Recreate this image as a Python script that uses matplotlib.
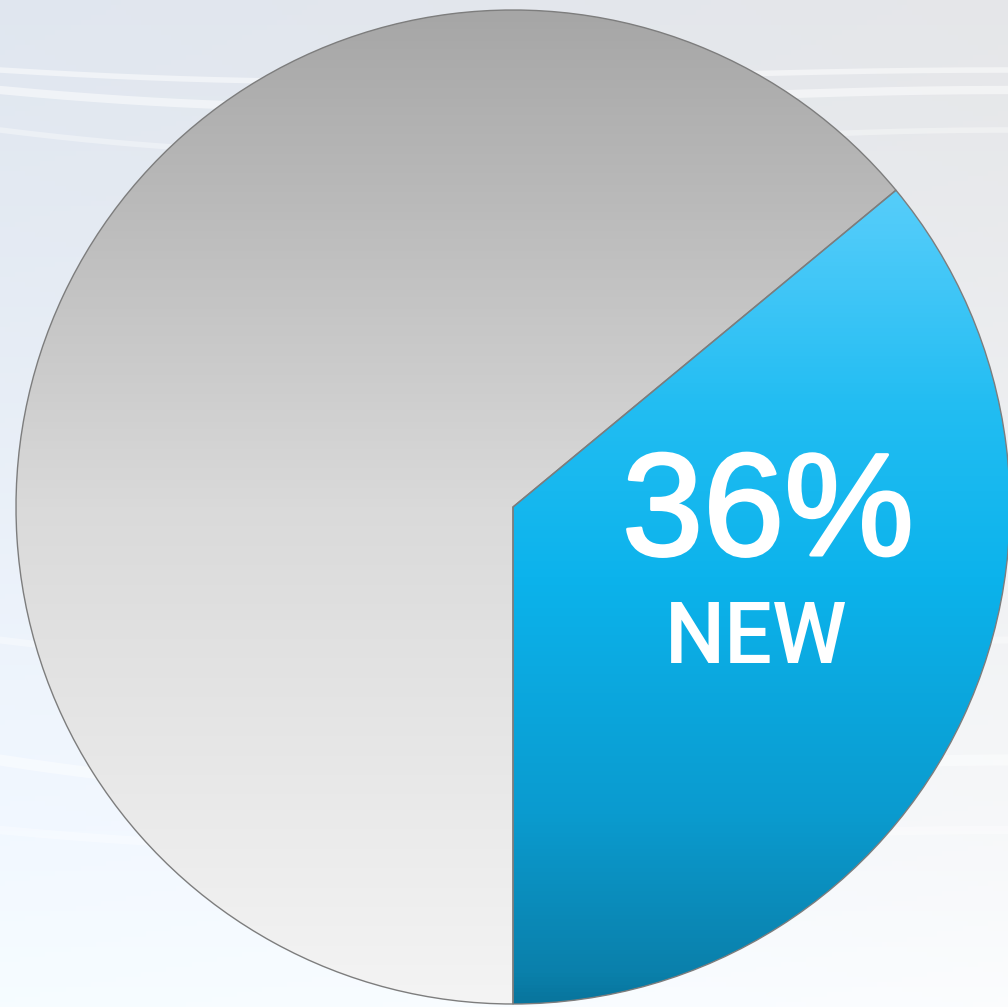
import numpy as np
import matplotlib.pyplot as plt
import matplotlib.patheffects as pe
from matplotlib.colors import LinearSegmentedColormap

# slice data
labels = ["NEW", "OTHER"]
shares = [36, 64]
headline = "36%"

W, H = 1008, 1007
cx, cy, r = 513, H - 507, 497

fig = plt.figure(figsize=(W / 100, H / 100), dpi=100)
ax = fig.add_axes([0, 0, 1, 1])
ax.set_xlim(0, W)
ax.set_ylim(0, H)
ax.set_aspect("equal")
ax.axis("off")

# soft silvery backdrop, grey on top fading to white
yy, xx = np.mgrid[0:1:200j, 0:1:200j]
bg = np.zeros((200, 200, 3))
top = np.array([0.90, 0.905, 0.915])
bot = np.array([0.985, 0.99, 0.995])
t = yy ** 1.2
for k in range(3):
    bg[..., k] = top[k] * (1 - t) + bot[k] * t
bg[..., 2] += 0.025 * (1 - xx)
bg[..., 0] -= 0.02 * (1 - xx)
bg = np.clip(bg, 0, 1)
ax.imshow(bg, extent=[0, W, 0, H], origin="upper", zorder=0, aspect="auto")

# faint white streaks (image rows measured from the top)
xs = np.linspace(0, W, 300)
for y0, amp, lw, a in [(760, 50, 8, 0.45), (640, 40, 5, 0.35), (830, 30, 6, 0.35),
                       (90, 30, 6, 0.5), (130, 40, 4, 0.35), (70, 20, 4, 0.5)]:
    ys = y0 + amp * np.sin(np.pi * xs / W) * (1 - xs / W)
    ax.plot(xs, H - ys, color="white", lw=lw, alpha=a, solid_capstyle="round", zorder=1)

wedges, _ = ax.pie(shares, startangle=-90, counterclock=True, center=(cx, cy),
                   radius=r, frame=True,
                   wedgeprops=dict(edgecolor="#7d7d7d", linewidth=1.0, facecolor="none"))
for w in wedges:
    w.set_zorder(4)

blue = LinearSegmentedColormap.from_list(
    "blue", [(0.0, "#08759d"), (0.03, "#0a80ab"), (0.19, "#0a9bcf"),
             (0.43, "#0cb3ec"), (0.6, "#22bdf2"), (0.77, "#4ccaf9"), (1.0, "#7ad9fc")])
gray = LinearSegmentedColormap.from_list(
    "gray", [(0.0, "#f4f4f4"), (0.5, "#dadada"), (1.0, "#a6a6a6")])

grad = np.linspace(0, 1, 256).reshape(-1, 1)
for w, cmap in zip(wedges, [blue, gray]):
    im = ax.imshow(grad, cmap=cmap, origin="lower", aspect="auto",
                   extent=[cx - r, cx + r, cy - r, cy + r], zorder=3)
    im.set_clip_path(w)

ax.set_xlim(0, W)
ax.set_ylim(0, H)
ax.axis("off")

# slightly heavier strokes for the big number
thick = [pe.withStroke(linewidth=2.2, foreground="white")]
ax.text(768, H - 555, headline, color="white", fontsize=105, fontfamily="Liberation Sans",
        ha="center", va="baseline", zorder=5, path_effects=thick)
ax.text(756, H - 663, labels[0], color="white", fontsize=61, fontfamily="Roboto",
        fontweight="medium", ha="center", va="baseline", zorder=5)

fig.savefig("out.png", dpi=100)
